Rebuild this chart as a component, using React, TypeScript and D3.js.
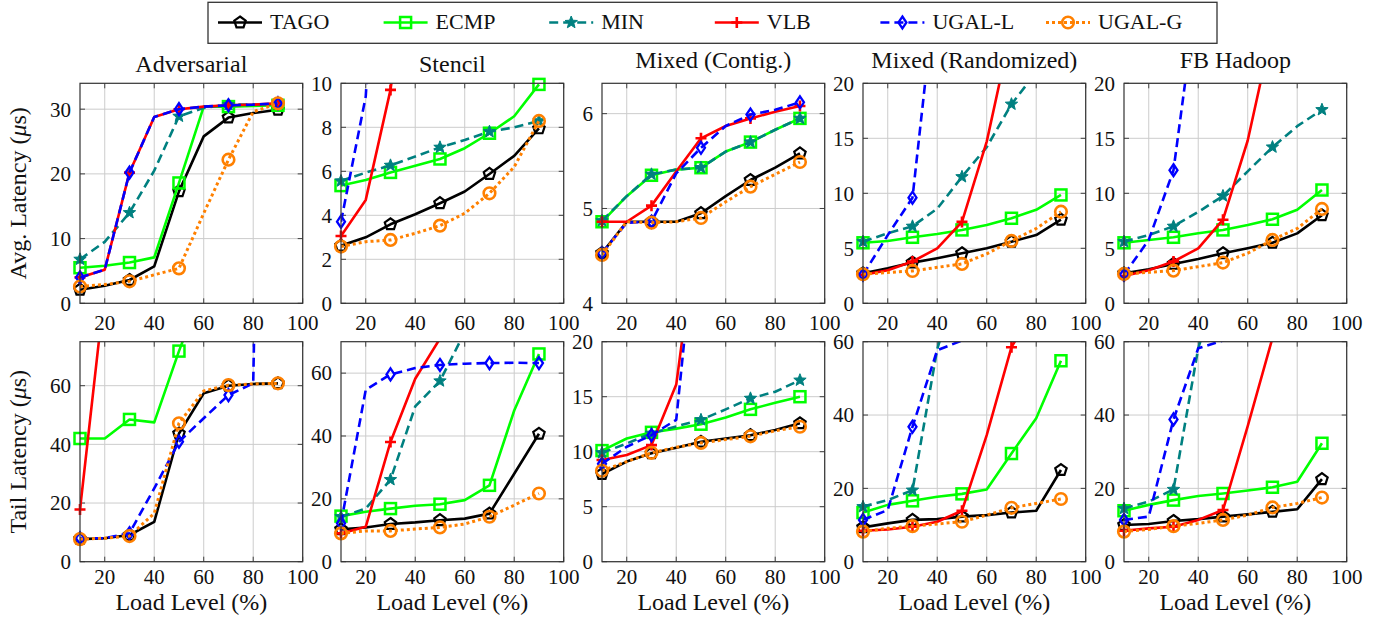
import React from "react";
import * as d3 from "d3";

// ---------- data ----------
const loads = [10, 20, 30, 40, 50, 60, 70, 80, 90];
const seriesNames = ["TAGO", "ECMP", "MIN", "VLB", "UGAL-L", "UGAL-G"];
const panelTitles = ["Adversarial", "Stencil", "Mixed (Contig.)", "Mixed (Randomized)", "FB Hadoop"];
const xTicks = [20, 40, 60, 80, 100];
const xDomain = [10, 100];

// rows follow seriesNames: TAGO, ECMP, MIN, VLB, UGAL-L, UGAL-G
const adversarialAvg = [
  [2.1, 2.7, 3.6, 5.7, 17.3, 25.8, 28.7, 29.4, 29.9],
  [5.5, 5.8, 6.3, 7.1, 18.6, 30.4, 30.4, 30.5, 30.6],
  [6.8, 9.5, 14.0, 20.5, 28.9, 30.2, 30.7, 30.7, 30.8],
  [4.0, 5.2, 20.2, 28.8, 30.0, 30.4, 30.6, 30.7, 30.9],
  [4.0, 5.2, 20.2, 28.8, 30.0, 30.4, 30.6, 30.7, 30.9],
  [2.6, 2.9, 3.4, 4.4, 5.4, 13.9, 22.2, 29.6, 30.9],
];
const stencilAvg = [
  [2.62, 3.0, 3.59, 4.05, 4.55, 5.08, 5.88, 6.7, 7.95],
  [5.35, 5.6, 5.95, 6.25, 6.56, 7.05, 7.73, 8.5, 9.95],
  [5.56, 5.94, 6.27, 6.67, 7.09, 7.42, 7.8, 8.0, 8.29],
  [3.06, 4.7, 9.7, 18, 25, 31, 36, 41, 45],
  [3.71, 9.4, 28, 40, 48, 55, 60, 64, 68],
  [2.58, 2.8, 2.88, 3.18, 3.53, 4.09, 5.0, 6.2, 8.29],
];
const mixedContigAvg = [
  [4.53, 4.86, 4.86, 4.86, 4.95, 5.13, 5.3, 5.43, 5.58],
  [4.86, 5.13, 5.35, 5.41, 5.43, 5.6, 5.7, 5.83, 5.95],
  [4.87, 5.13, 5.36, 5.41, 5.43, 5.6, 5.7, 5.83, 5.95],
  [4.86, 4.86, 5.03, 5.39, 5.74, 5.87, 5.95, 6.02, 6.08],
  [4.53, 4.85, 4.86, 5.37, 5.64, 5.87, 5.99, 6.04, 6.12],
  [4.51, 4.86, 4.85, 4.86, 4.9, 5.07, 5.23, 5.36, 5.49],
];
const mixedRandAvg = [
  [2.73, 3.18, 3.7, 4.1, 4.55, 5.0, 5.6, 6.2, 7.6],
  [5.5, 5.67, 6.0, 6.3, 6.67, 7.12, 7.73, 8.5, 9.85],
  [5.6, 6.36, 7.0, 8.6, 11.5, 14.2, 18.1, 21, 24],
  [2.58, 3.0, 3.8, 5.0, 7.4, 14.7, 25, 35, 45],
  [2.6, 6.2, 9.6, 30, 40, 50, 60, 70, 80],
  [2.64, 2.8, 2.94, 3.27, 3.58, 4.5, 5.67, 6.8, 8.33],
];
const fbHadoopAvg = [
  [2.73, 3.1, 3.58, 4.03, 4.55, 5.0, 5.5, 6.36, 8.0],
  [5.5, 5.76, 6.0, 6.36, 6.67, 7.12, 7.64, 8.5, 10.3],
  [5.6, 6.2, 7.0, 8.3, 9.76, 12.0, 14.2, 16.1, 17.6],
  [2.48, 3.0, 3.8, 5.0, 7.6, 14.8, 25, 35, 45],
  [2.6, 5.76, 12.1, 29, 40, 50, 60, 70, 80],
  [2.67, 2.82, 2.97, 3.33, 3.7, 4.55, 5.76, 6.8, 8.58],
];
const adversarialTail = [
  [7.7, 8.0, 9.1, 13.6, 43.7, 57.4, 60, 60.6, 60.8],
  [42, 42, 48.5, 47.5, 71.8, 94, 110, 120, 130],
  [78, 84, 93, 104, 112, 118, 121, 123, 124],
  [17.8, 93, 120, 140, 150, 160, 170, 180, 190],
  [8.0, 8.0, 9.7, 25, 40.9, 48.9, 56.8, 60.8, 500],
  [7.7, 8.0, 8.75, 16.5, 47.2, 58.2, 60.2, 60.6, 60.8],
];
const stencilTail = [
  [10.3, 10.9, 12.0, 12.5, 13.2, 13.7, 15.3, 28, 40.7],
  [14.5, 15.9, 16.9, 17.8, 18.3, 19.6, 24.3, 48.1, 66.1],
  [14.3, 16.9, 26.1, 49.4, 57.5, 73, 85, 95, 100],
  [9.0, 11.1, 38.1, 58.2, 71, 80, 88, 95, 100],
  [12.2, 54.7, 59.6, 61.6, 62.6, 63.0, 63.2, 63.3, 63.2],
  [9.0, 9.8, 9.8, 10.4, 10.9, 12, 14.3, 18, 21.7],
];
const mixedContigTail = [
  [7.97, 9.1, 9.85, 10.36, 10.9, 11.2, 11.5, 11.97, 12.58],
  [10.1, 11.2, 11.76, 12.1, 12.5, 13.1, 13.85, 14.45, 15.0],
  [9.9, 10.75, 11.67, 12.3, 12.9, 13.85, 14.85, 15.45, 16.5],
  [9.24, 9.7, 10.6, 16.1, 33, 40, 45, 50, 55],
  [8.9, 10.45, 11.5, 12.9, 35, 40, 45, 50, 55],
  [8.27, 9.1, 9.9, 10.4, 10.8, 11.1, 11.4, 11.9, 12.27],
];
const mixedRandTail = [
  [9.36, 10.45, 11.4, 11.6, 12.3, 12.7, 13.4, 13.9, 25],
  [13.4, 15.5, 16.6, 17.7, 18.5, 19.7, 29.5, 39.1, 54.8],
  [15, 16.8, 19.5, 58, 80, 95, 105, 115, 120],
  [8.45, 8.8, 9.55, 10.9, 13.9, 34.5, 58.5, 70, 80],
  [11.4, 14.1, 36.8, 57.7, 60.3, 62, 63, 64, 65],
  [8.2, 9.1, 9.7, 10.3, 10.9, 12.7, 14.7, 15.9, 17.1],
];
const fbHadoopTail = [
  [10.0, 10.3, 11.1, 11.6, 12.3, 12.9, 13.6, 14.3, 22.5],
  [13.9, 15.5, 16.8, 17.9, 18.6, 19.4, 20.3, 21.8, 32.3],
  [14.5, 16.4, 19.7, 58.2, 80, 95, 105, 115, 120],
  [8.45, 9.1, 9.55, 11.4, 14.1, 37, 61, 80, 95],
  [11.4, 12.3, 38.8, 58.2, 60.3, 62, 63, 64, 65],
  [8.2, 8.8, 9.7, 10.45, 11.4, 12.7, 14.8, 15.9, 17.5],
];

const avgData = [adversarialAvg, stencilAvg, mixedContigAvg, mixedRandAvg, fbHadoopAvg];
const tailData = [adversarialTail, stencilTail, mixedContigTail, mixedRandTail, fbHadoopTail];
const avgYDomains = [[0, 34], [0, 10], [4, 6.32], [0, 20], [0, 20]];
const tailYDomains = [[0, 75], [0, 70], [0, 20], [0, 60], [0, 60]];
const avgYTicks = [[0, 10, 20, 30], [0, 2, 4, 6, 8, 10], [4, 5, 6], [0, 5, 10, 15, 20], [0, 5, 10, 15, 20]];
const tailYTicks = [[0, 20, 40, 60], [0, 20, 40, 60], [0, 5, 10, 15, 20], [0, 20, 40, 60], [0, 20, 40, 60]];

// ---------- styles ----------
const W = 1385;
const H = 618;
const FONT = '"Liberation Serif", "DejaVu Serif", "Times New Roman", serif';
const colors = ["#000000", "#00ff00", "#008080", "#ff0000", "#0000ff", "#ff8000"];
const dashes = [undefined, undefined, "9,5", undefined, "9,5", "3,3"];
const markerTypes = ["pentagon", "square", "star", "plus", "diamond", "circle"];
const lineWidths = [2.6, 2.6, 2.6, 2.6, 2.6, 3];

const PANEL_W = 222.7;
const PANEL_H = 220;
const PANEL_LEFT0 = 80;
const PANEL_STEP = 261;
const ROW_TOPS = [83.3, 341.7];
const X_LABEL_OFFSETS = [26.7, 22];

function starPath(R: number, r: number) {
  const pts: string[] = [];
  for (let i = 0; i < 10; i++) {
    const a = -Math.PI / 2 + (i * Math.PI) / 5;
    const rad = i % 2 === 0 ? R : r;
    pts.push(`${(rad * Math.cos(a)).toFixed(2)},${(rad * Math.sin(a)).toFixed(2)}`);
  }
  return "M" + pts.join("L") + "Z";
}
function pentagonPath(R: number) {
  const pts: string[] = [];
  for (let i = 0; i < 5; i++) {
    const a = -Math.PI / 2 + (i * 2 * Math.PI) / 5;
    pts.push(`${(R * Math.cos(a)).toFixed(2)},${(R * Math.sin(a)).toFixed(2)}`);
  }
  return "M" + pts.join("L") + "Z";
}

function Marker({ type, x, y, color }: { type: string; x: number; y: number; color: string }) {
  const t = `translate(${x},${y})`;
  switch (type) {
    case "pentagon":
      return <path transform={t} d={pentagonPath(6)} fill="none" stroke={color} strokeWidth={2.2} />;
    case "square":
      return <rect x={x - 5.5} y={y - 5.5} width={11} height={11} fill="none" stroke={color} strokeWidth={2.5} />;
    case "star":
      return <path transform={t} d={starPath(6.5, 2.8)} fill={color} stroke={color} strokeWidth={1} />;
    case "plus":
      return <path transform={t} d="M-5.5,0H5.5M0,-5.5V5.5" fill="none" stroke={color} strokeWidth={2.6} />;
    case "diamond":
      return <path transform={t} d="M0,-6L4,0L0,6L-4,0Z" fill="none" stroke={color} strokeWidth={2.3} />;
    case "circle":
      return <circle cx={x} cy={y} r={5.8} fill="none" stroke={color} strokeWidth={2.6} />;
    default:
      return null;
  }
}

function Panel({
  row, col, data, yDomain, yTicks, title, yLabel, xLabel,
}: {
  row: number; col: number; data: number[][]; yDomain: number[]; yTicks: number[];
  title?: string; yLabel?: string; xLabel?: string;
}) {
  const left = PANEL_LEFT0 + col * PANEL_STEP;
  const top = ROW_TOPS[row];
  const x = d3.scaleLinear().domain(xDomain).range([left, left + PANEL_W]);
  const y = d3.scaleLinear().domain(yDomain).range([top + PANEL_H, top]);
  const clipId = `clip-${row}-${col}`;
  const hasDesc = title ? /[()gjpqy,]/.test(title) : false;
  return (
    <g>
      <defs>
        <clipPath id={clipId}>
          <rect x={left} y={top} width={PANEL_W} height={PANEL_H} />
        </clipPath>
      </defs>
      {/* grid */}
      {xTicks.map((t) => (
        <line key={"gx" + t} x1={x(t)} x2={x(t)} y1={top} y2={top + PANEL_H} stroke="#cccccc" strokeWidth={1} />
      ))}
      {yTicks.map((t) => (
        <line key={"gy" + t} x1={left} x2={left + PANEL_W} y1={y(t)} y2={y(t)} stroke="#cccccc" strokeWidth={1} />
      ))}
      {/* ticks inward */}
      {xTicks.map((t) => (
        <g key={"tx" + t}>
          <line x1={x(t)} x2={x(t)} y1={top + PANEL_H} y2={top + PANEL_H - 5} stroke="#404040" strokeWidth={1} />
          <line x1={x(t)} x2={x(t)} y1={top} y2={top + 5} stroke="#404040" strokeWidth={1} />
        </g>
      ))}
      {yTicks.map((t) => (
        <g key={"ty" + t}>
          <line x1={left} x2={left + 5} y1={y(t)} y2={y(t)} stroke="#404040" strokeWidth={1} />
          <line x1={left + PANEL_W} x2={left + PANEL_W - 5} y1={y(t)} y2={y(t)} stroke="#404040" strokeWidth={1} />
        </g>
      ))}
      {/* series */}
      {data.map((vals, si) => {
        const pts = loads.map((l, i) => [l, vals[i]] as [number, number]);
        const line = d3.line<[number, number]>().x((d) => x(d[0])).y((d) => y(d[1]));
        return (
          <g key={"s" + si}>
            <path
              d={line(pts) || ""}
              clipPath={`url(#${clipId})`}
              fill="none"
              stroke={colors[si]}
              strokeWidth={lineWidths[si]}
              strokeDasharray={dashes[si]}
              strokeLinejoin="round"
            />
            {pts
              .filter((_, i) => i % 2 === 0)
              .filter((d) => d[1] >= yDomain[0] && d[1] <= yDomain[1] + 0.001)
              .map((d, i) => (
                <Marker key={i} type={markerTypes[si]} x={x(d[0])} y={y(d[1])} color={colors[si]} />
              ))}
          </g>
        );
      })}
      {/* frame */}
      <rect x={left} y={top} width={PANEL_W} height={PANEL_H} fill="none" stroke="#333333" strokeWidth={1.2} />
      {/* tick labels */}
      {xTicks.map((t) => (
        <text key={"lx" + t} x={x(t)} y={top + PANEL_H + X_LABEL_OFFSETS[row]} textAnchor="middle" fontSize={21} fontFamily={FONT} fill="#111">
          {t}
        </text>
      ))}
      {yTicks.map((t) => (
        <text key={"ly" + t} x={left - 9} y={y(t)} dy="0.35em" textAnchor="end" fontSize={21} fontFamily={FONT} fill="#111">
          {t}
        </text>
      ))}
      {title && (
        <text x={left + PANEL_W / 2} y={hasDesc ? 67.5 : 71.7} textAnchor="middle" fontSize={24} fontFamily={FONT} fill="#111">
          {title}
        </text>
      )}
      {xLabel && (
        <text x={left + PANEL_W / 2} y={610} textAnchor="middle" fontSize={24} fontFamily={FONT} fill="#111">
          {xLabel}
        </text>
      )}
      {yLabel && (
        <text
          transform={`translate(26,${top + PANEL_H / 2}) rotate(-90)`}
          textAnchor="middle"
          fontSize={24}
          fontFamily={FONT}
          fill="#111"
        >
          {yLabel} (<tspan fontStyle="italic">μ</tspan>s)
        </text>
      )}
    </g>
  );
}

function Legend() {
  const textX0 = 270;
  const step = 165.6;
  const cy = 22.5;
  return (
    <g>
      <rect x={208} y={2.3} width={1009} height={41} fill="white" stroke="#333333" strokeWidth={1.3} />
      {seriesNames.map((name, i) => {
        const tx = textX0 + i * step;
        return (
          <g key={name}>
            <line
              x1={tx - 52}
              x2={tx - 8}
              y1={cy}
              y2={cy}
              stroke={colors[i]}
              strokeWidth={lineWidths[i]}
              strokeDasharray={dashes[i]}
            />
            <Marker type={markerTypes[i]} x={tx - 30} y={cy} color={colors[i]} />
            <text x={tx} y={28.5} fontSize={22} fontFamily={FONT} fill="#111">
              {name}
            </text>
          </g>
        );
      })}
    </g>
  );
}

export default function App() {
  return (
    <svg
      width={W}
      height={H}
      viewBox={`0 0 ${W} ${H}`}
      style={{ position: "absolute", left: 0, top: 0, background: "white" }}
    >
      <rect x={0} y={0} width={W} height={H} fill="white" />
      {panelTitles.map((t, c) => (
        <Panel
          key={"a" + c}
          row={0}
          col={c}
          data={avgData[c]}
          yDomain={avgYDomains[c]}
          yTicks={avgYTicks[c]}
          title={t}
          yLabel={c === 0 ? "Avg. Latency" : undefined}
        />
      ))}
      {panelTitles.map((t, c) => (
        <Panel
          key={"t" + c}
          row={1}
          col={c}
          data={tailData[c]}
          yDomain={tailYDomains[c]}
          yTicks={tailYTicks[c]}
          yLabel={c === 0 ? "Tail Latency" : undefined}
          xLabel="Load Level (%)"
        />
      ))}
      <Legend />
    </svg>
  );
}
